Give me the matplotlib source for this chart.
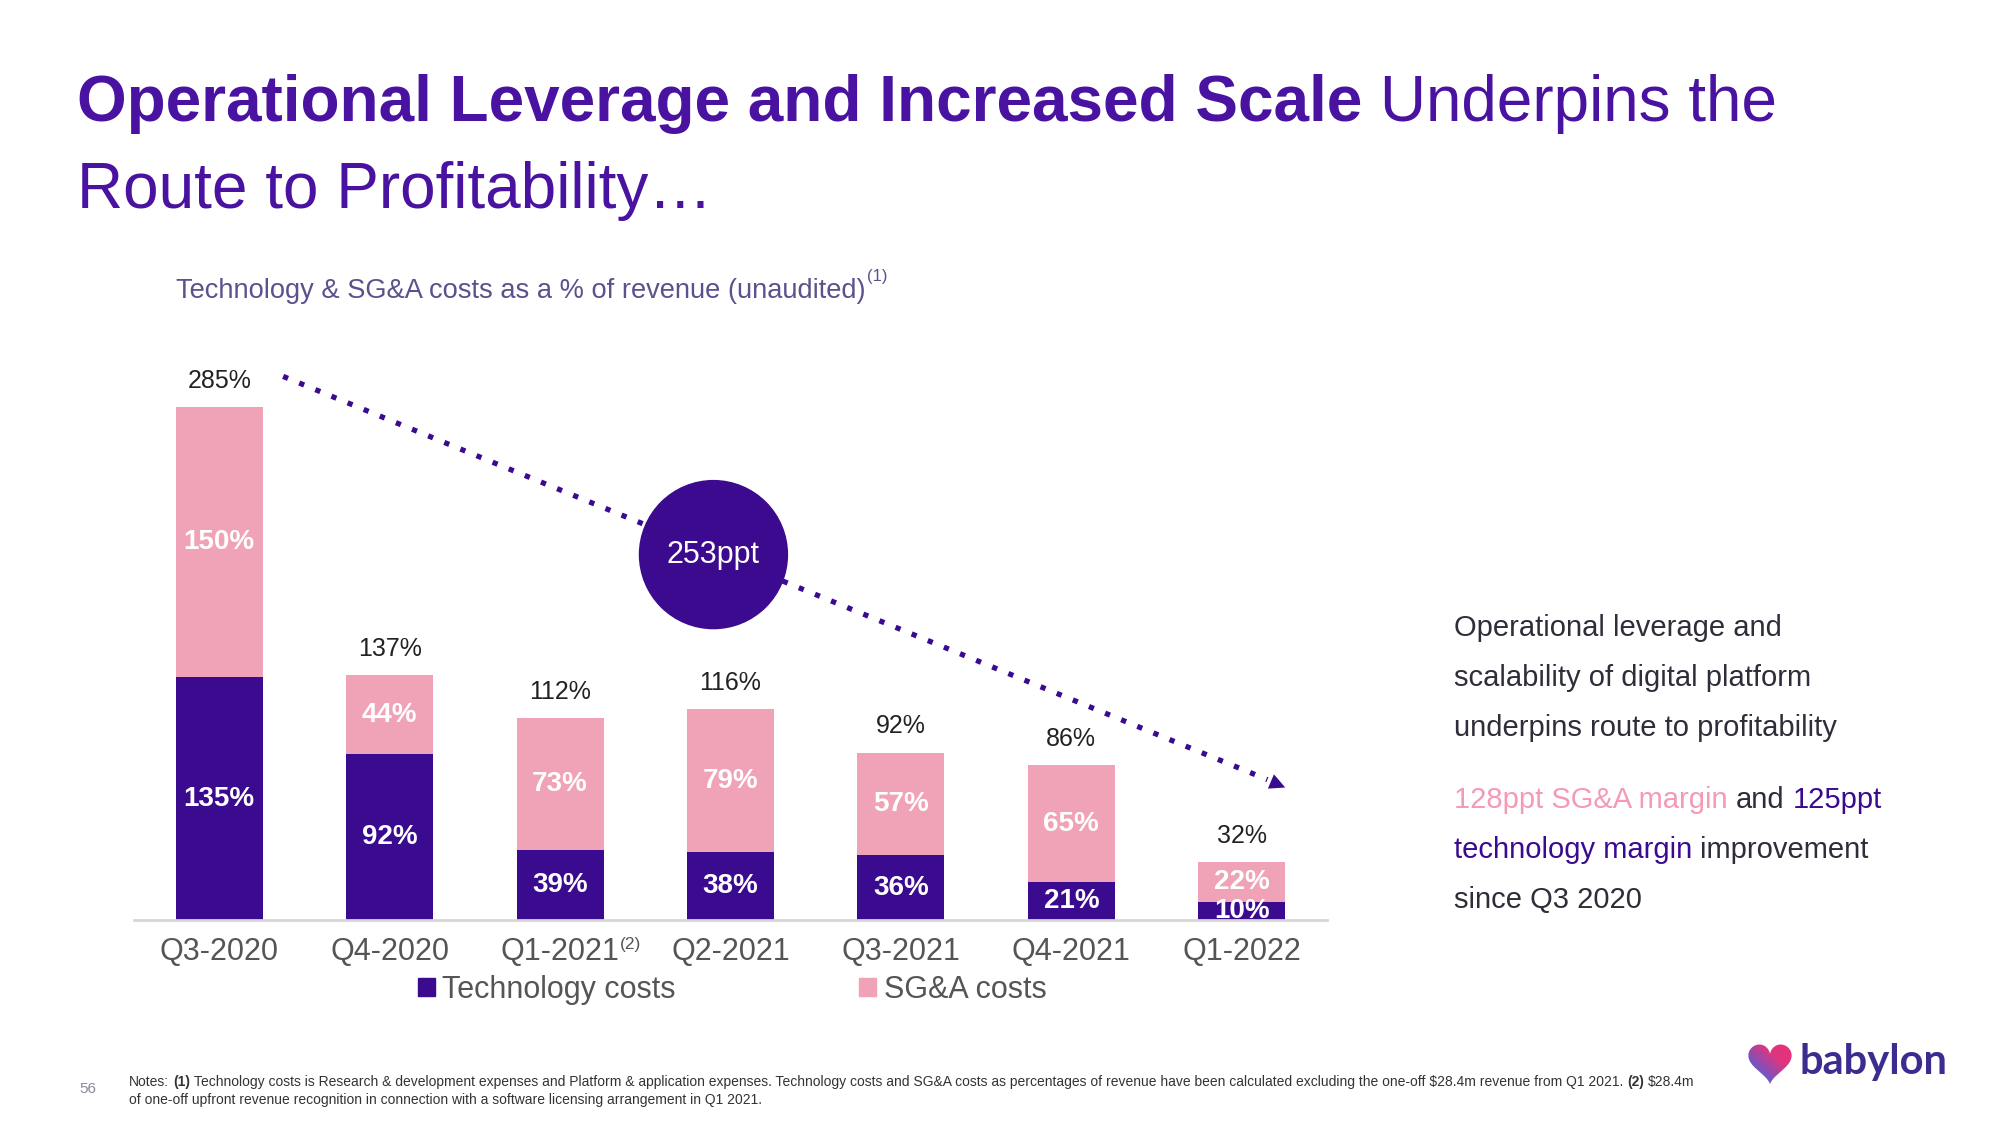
import numpy as np
import matplotlib.pyplot as plt
from matplotlib.patches import Patch, Ellipse, PathPatch
from matplotlib.path import Path
from matplotlib.colors import LinearSegmentedColormap

quarters = ["Q3-2020", "Q4-2020", "Q1-2021", "Q2-2021", "Q3-2021", "Q4-2021", "Q1-2022"]
tech = [135, 92, 39, 38, 36, 21, 10]
sga = [150, 44, 73, 79, 57, 65, 22]
totals = [285, 137, 112, 116, 92, 86, 32]

W, H = 2000, 1125
PURPLE = "#3a0a8f"
PINK = "#f0a3b6"
TITLE = "#4a12a0"


def fxy(x, y):
    # pixel position (from top-left) -> figure fraction
    return x / W, 1 - y / H


def write(fig, x, y, parts, size, **kw):
    # draw text pieces one after the other, separated by a space
    renderer = fig.canvas.get_renderer()
    gap = 0.278 * size * 100 / 72
    for s, style in parts:
        t = fig.text(*fxy(x, y), s, va="baseline", fontsize=size,
                     parse_math=False, **kw, **style)
        x += t.get_window_extent(renderer).width + gap


def main():
    plt.rcParams["font.family"] = ["Liberation Sans", "DejaVu Sans"]
    fig = plt.figure(figsize=(20, 11.25), dpi=100, facecolor="white")

    # title
    write(fig, 77, 121, [("Operational Leverage and Increased Scale", {"fontweight": "bold"}),
                         ("Underpins the", {})], 46, color=TITLE)
    write(fig, 77, 208, [("Route to Profitability\u2026", {})], 46, color=TITLE)

    # chart subtitle
    fig.text(*fxy(176, 291), "Technology & SG&A costs as a % of revenue (unaudited)",
             fontsize=19.6, color="#5a528e", va="center")
    fig.text(*fxy(867, 276), "(1)", fontsize=12, color="#5a528e", va="center")

    # bars
    ax = fig.add_axes([134 / W, (H - 920) / H, (1327 - 134) / W, 540 / H])
    x = np.arange(len(quarters))
    ax.bar(x, tech, width=0.51, color=PURPLE, label="Technology costs")
    ax.bar(x, sga, bottom=tech, width=0.51, color=PINK, label="SG&A costs")
    ax.set_xlim(-0.5, 6.5)
    ax.set_ylim(0, 300)
    for s in ["top", "left", "right"]:
        ax.spines[s].set_visible(False)
    ax.spines["bottom"].set_color("#d6d6d6")
    ax.spines["bottom"].set_linewidth(2)
    ax.set_yticks([])
    ax.set_xticks(x, quarters)
    ax.tick_params(axis="x", length=0, pad=12, labelsize=22, labelcolor="#555555")

    for i in x:
        ax.text(i, tech[i] / 2, f"{tech[i]}%", ha="center", va="center",
                color="white", fontweight="bold", fontsize=20, clip_on=True)
        ax.text(i, tech[i] + sga[i] / 2, f"{sga[i]}%", ha="center", va="center",
                color="white", fontweight="bold", fontsize=20, clip_on=True)
        ax.annotate(f"{totals[i]}%", (i, tech[i] + sga[i]), xytext=(0, 19),
                    textcoords="offset points", ha="center", va="center",
                    fontsize=18, color="#222222")

    fig.text(*fxy(620, 944), "(2)", fontsize=12.5, color="#555555", va="center")

    # trend arrow and bubble
    ax.plot([0.375, 6.15], [302, 78], color=PURPLE, lw=3.8,
            linestyle=(0, (1, 2.3)), dash_capstyle="butt", clip_on=False, zorder=1)
    ax.annotate("", xy=(6.27, 73), xytext=(6.12, 79),
                arrowprops=dict(arrowstyle="-|>", color=PURPLE, lw=0, mutation_scale=28),
                annotation_clip=False)
    ax.add_patch(Ellipse((2.9, 203), 148 / 170.5, 148 / 1.8, color="#3b0a8e",
                         clip_on=False, zorder=3))
    ax.text(2.9, 203, "253ppt", ha="center", va="center", color="white",
            fontsize=22, zorder=4)

    # legend
    handles = [Patch(color=PURPLE), Patch(color=PINK)]
    fig.legend(handles, ["Technology costs", "SG&A costs"], ncol=2, loc="center left",
               bbox_to_anchor=fxy(418, 990), frameon=False, fontsize=22,
               labelcolor="#555555", handlelength=0.55, handleheight=0.55,
               handletextpad=0.25, columnspacing=6.0, borderpad=0, borderaxespad=0)

    # right hand commentary
    dark = "#2e2e3a"
    write(fig, 1454, 636, [("Operational leverage and", {})], 21, color=dark)
    write(fig, 1454, 686, [("scalability of digital platform", {})], 21, color=dark)
    write(fig, 1454, 736, [("underpins route to profitability", {})], 21, color=dark)
    write(fig, 1454, 808, [("128ppt SG&A margin", {"color": "#f49ab5"}),
                           ("and", {"color": dark}),
                           ("125ppt", {"color": PURPLE})], 21)
    write(fig, 1454, 858, [("technology margin", {"color": PURPLE}),
                           ("improvement", {"color": dark})], 21)
    write(fig, 1454, 908, [("since Q3 2020", {})], 21, color=dark)

    # notes
    fig.text(*fxy(79, 1089), "56", fontsize=11, color="#8a8a9a", va="center")
    note1 = ("Technology costs is Research & development expenses and Platform & application "
             "expenses. Technology costs and SG&A costs as percentages of revenue have been "
             "calculated excluding the one-off $28.4m revenue from Q1 2021.")
    write(fig, 129, 1086, [("Notes:", {}), ("(1)", {"fontweight": "bold"}), (note1, {}),
                           ("(2)", {"fontweight": "bold"}), ("$28.4m", {})],
          10, color="#333333")
    write(fig, 129, 1104, [("of one-off upfront revenue recognition in connection with a "
                            "software licensing arrangement in Q1 2021.", {})],
          10, color="#333333")

    # logo
    hax = fig.add_axes([1747 / W, 1 - 1086 / H, 46 / W, 43 / H])
    hax.set_axis_off()
    t = np.linspace(0, 2 * np.pi, 300)
    hx = 16 * np.sin(t) ** 3
    hy = 13 * np.cos(t) - 5 * np.cos(2 * t) - 2 * np.cos(3 * t) - np.cos(4 * t)
    heart = PathPatch(Path(np.column_stack([hx, hy])), facecolor="none", edgecolor="none")
    hax.add_patch(heart)
    gx, gy = np.meshgrid(np.linspace(0, 1, 100), np.linspace(0, 1, 100))
    cmap = LinearSegmentedColormap.from_list("bab", ["#18b9d8", "#7a52c0", "#e0357f", "#e8307a"])
    img = hax.imshow(gx * 0.6 + gy * 0.6, cmap=cmap, extent=(-17, 17, -18, 13),
                     origin="lower", aspect="auto")
    img.set_clip_path(heart)
    hax.set_xlim(-17, 17)
    hax.set_ylim(-18, 13)
    fig.text(*fxy(1800, 1062), "babylon", fontsize=30, fontweight="bold",
             color="#3b2d8f", va="center", fontfamily="Lato")

    fig.savefig("out.png", dpi=100)
    plt.close(fig)


if __name__ == "__main__":
    main()
